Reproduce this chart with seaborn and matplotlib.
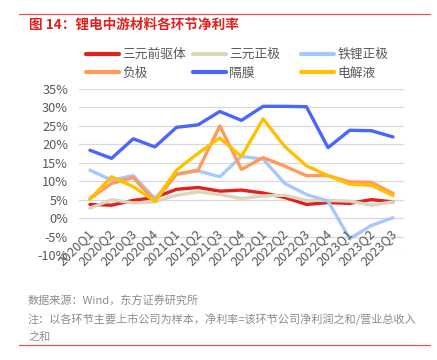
import pandas as pd
import matplotlib.pyplot as plt
import matplotlib.transforms as mtransforms
from matplotlib.lines import Line2D
import seaborn as sns

# 季度
quarters = ['2020Q1', '2020Q2', '2020Q3', '2020Q4',
            '2021Q1', '2021Q2', '2021Q3', '2021Q4',
            '2022Q1', '2022Q2', '2022Q3', '2022Q4',
            '2023Q1', '2023Q2', '2023Q3']

# 各环节净利率 (%)
precursor = [3.7, 3.5, 4.8, 5.6, 7.8, 8.3, 7.3, 7.6, 6.8, 5.6, 3.7, 4.2, 4.0, 5.0, 4.4]
ncm_cathode = [2.7, 5.0, 4.1, 4.4, 6.2, 7.1, 6.4, 5.3, 6.0, 6.2, 4.8, 4.8, 4.6, 3.5, 4.4]
lfp_cathode = [13.0, 10.3, 11.5, 5.3, 11.9, 12.8, 11.2, 16.7, 16.0, 9.4, 6.4, 4.6, -5.6, -2.0, 0.1]
anode = [5.3, 9.4, 11.0, 4.6, 11.9, 13.0, 25.0, 13.2, 16.4, 14.1, 11.5, 11.5, 9.8, 9.7, 6.7]
separator = [18.4, 16.2, 21.5, 19.3, 24.6, 25.3, 28.9, 26.5, 30.3, 30.3, 30.2, 19.1, 23.8, 23.7, 22.0]
electrolyte = [5.1, 11.2, 8.5, 4.6, 13.0, 17.6, 21.7, 16.7, 26.9, 19.4, 14.2, 11.5, 9.2, 8.9, 6.1]

names = ['三元前驱体', '三元正极', '铁锂正极', '负极', '隔膜', '电解液']
colors = ['#E3201C', '#DDD4BE', '#A6C8FF', '#FF9A5A', '#4A66FF', '#FFC000']
series = [precursor, ncm_cathode, lfp_cathode, anode, separator, electrolyte]

rows = []
for name, vals in zip(names, series):
    for i, v in enumerate(vals):
        rows.append({'季度': i, '环节': name, '净利率': v})
df = pd.DataFrame(rows)

sns.set_style('white')
plt.rcParams['font.family'] = ['Noto Sans CJK SC', 'DejaVu Sans']

fig = plt.figure(figsize=(4.37, 3.6), dpi=100)
ax = fig.add_axes([0.181, 0.2917, 0.743, 0.4611])

sns.lineplot(data=df, x='季度', y='净利率', hue='环节', hue_order=names,
             palette=dict(zip(names, colors)), linewidth=2.4, ax=ax,
             legend=False, zorder=3)

ax.set_xlim(-0.5, len(quarters) - 0.5)
ax.set_ylim(-10, 35)
yt = list(range(-10, 36, 5))
ax.set_yticks(yt, [f'{v}%' for v in yt])
ax.tick_params(axis='y', length=0, pad=8, labelsize=9.2, labelcolor='#595959')
ax.set_xticks(range(len(quarters)), [])
ax.tick_params(axis='x', length=0)
ax.grid(axis='y', color='#D9D9D9', linewidth=0.9)
ax.grid(axis='x', visible=False)
for s in ax.spines.values():
    s.set_visible(False)
ax.set_xlabel('')
ax.set_ylabel('')

# 横轴标签贴着0%线
off = mtransforms.offset_copy(ax.transData, fig=fig, x=6, y=-9, units='dots')
for i, q in enumerate(quarters):
    ax.text(i, 0, q, rotation=45, ha='right', va='top', fontsize=9.2,
            color='#595959', transform=off)

# 图例，三列
cols = [(0, 3), (1, 4), (2, 5)]
xs = [86 / 437, 193 / 437, 301 / 437]
for (a, b), x0 in zip(cols, xs):
    hs = [Line2D([], [], color=colors[k], linewidth=3) for k in (a, b)]
    leg = fig.legend(hs, [names[a], names[b]], loc='upper left',
                     bbox_to_anchor=(x0, 1 - 48 / 360), frameon=False,
                     fontsize=9.2, handlelength=2.6, handletextpad=0.25,
                     labelspacing=0.45, borderpad=0, borderaxespad=0)
    for t in leg.get_texts():
        t.set_color('#595959')

# 标题和注释
fig.add_artist(Line2D([19 / 437, 430 / 437], [1 - 14 / 360] * 2,
                      color='#E8534F', linewidth=0.9))
fig.add_artist(Line2D([19 / 437, 430 / 437], [1 - 345 / 360] * 2,
                      color='#E8534F', linewidth=0.9))
fig.text(29 / 437, 1 - 25 / 360, '图 14：锂电中游材料各环节净利率', color='#E3201C',
         fontsize=9.8, fontweight='bold', va='center', ha='left')
fig.text(28 / 437, 1 - 301 / 360, '数据来源：Wind，东方证券研究所', color='#8C8C8C',
         fontsize=8, va='center', ha='left')
fig.text(28 / 437, 1 - 320 / 360, '注：以各环节主要上市公司为样本，净利率=该环节公司净利润之和/营业总收入',
         color='#8C8C8C', fontsize=8, va='center', ha='left')
fig.text(28 / 437, 1 - 337 / 360, '之和', color='#8C8C8C',
         fontsize=8, va='center', ha='left')

fig.savefig('out.png', dpi=100)
